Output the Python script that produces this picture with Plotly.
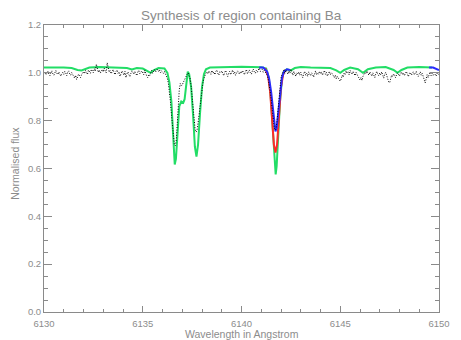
import plotly.graph_objects as go

# ---------------- data ----------------
obs_start = 6130.0
obs_step = 0.05
obs_flux = [
    # 6130
    0.998, 1.004, 0.992, 1.000, 1.006, 0.995, 0.988, 1.002, 1.008, 0.996,
    0.990, 1.000, 1.010, 0.998, 0.993, 1.004, 0.997, 0.986, 0.995, 1.002,
    # 6131
    0.994, 1.006, 0.999, 0.988, 1.003, 1.008, 0.996, 0.990, 1.001, 0.994,
    0.985, 0.978, 0.990, 0.972, 0.983, 0.995, 0.988, 0.980, 0.992, 1.000,
    # 6132
    1.005, 0.996, 1.010, 1.002, 0.993, 1.012, 1.004, 0.998, 1.015, 1.006,
    1.000, 1.018, 1.008, 1.036, 1.010, 1.002, 1.012, 0.999, 1.006, 1.014,
    # 6133
    1.004, 1.020, 1.008, 1.000, 1.042, 1.012, 1.003, 1.010, 0.996, 1.005,
    1.014, 1.000, 0.992, 1.006, 1.012, 0.998, 1.004, 0.985, 0.995, 1.008,
    # 6134
    1.000, 0.990, 1.006, 0.980, 0.996, 1.004, 0.992, 0.984, 0.998, 1.008,
    1.002, 0.994, 1.006, 0.998, 0.988, 1.004, 1.010, 0.996, 1.002, 1.008,
    # 6135
    1.000, 0.992, 1.012, 0.996, 0.986, 0.980, 0.992, 0.988, 1.000, 1.010,
    0.998, 1.008, 1.014, 1.004, 1.010, 1.016, 1.006, 1.012, 1.000, 1.008,
    # 6136
    1.004, 0.998, 1.006, 0.996, 0.990, 0.975, 0.955, 0.925, 0.880, 0.830,
    0.775, 0.730, 0.700, 0.695, 0.720, 0.790, 0.870, 0.930, 0.955, 0.945,
    # 6137
    0.950, 0.960, 0.972, 0.978, 0.985, 0.995, 1.000, 0.990, 0.975, 0.945,
    0.900, 0.850, 0.800, 0.765, 0.752, 0.760, 0.790, 0.830, 0.860, 0.900,
    # 6138
    0.935, 0.960, 0.978, 0.990, 0.998, 1.004, 0.996, 1.008, 1.000, 0.994,
    1.010, 0.998, 1.004, 0.992, 1.006, 1.012, 0.998, 0.990, 1.004, 1.000,
    # 6139
    1.008, 0.996, 0.988, 1.002, 1.010, 0.995, 0.985, 0.998, 1.006, 0.992,
    1.000, 1.012, 0.996, 1.004, 0.990, 0.998, 1.008, 1.002, 0.994, 1.006,
    # 6140
    0.998, 1.010, 1.002, 0.992, 1.006, 1.014, 0.996, 1.004, 1.012, 1.000,
    0.994, 1.008, 1.016, 1.004, 0.998, 1.010, 1.002, 1.012, 1.020, 1.006,
    # 6141
    1.008, 1.014, 1.002, 1.010, 1.004, 0.996, 0.990, 0.975, 0.955, 0.925,
    0.890, 0.850, 0.805, 0.775, 0.760, 0.765, 0.800, 0.850, 0.905, 0.950,
    # 6142
    0.980, 0.995, 1.004, 1.010, 0.998, 1.012, 1.004, 0.994, 1.008, 0.998,
    1.015, 1.002, 0.990, 1.006, 0.996, 0.985, 1.000, 0.994, 1.004, 0.990,
    # 6143
    1.002, 0.994, 0.980, 0.996, 1.006, 0.990, 0.998, 0.985, 1.004, 0.996,
    0.988, 1.000, 0.994, 0.982, 0.998, 1.008, 0.992, 1.000, 0.994, 1.006,
    # 6144
    0.996, 1.004, 0.990, 0.998, 1.010, 0.994, 1.002, 0.986, 0.998, 1.006,
    0.992, 1.000, 0.996, 0.988, 0.980, 0.990, 0.975, 0.985, 0.978, 0.970,
    # 6145
    0.965, 0.975, 0.990, 0.982, 1.000, 0.994, 1.008, 0.998, 1.004, 0.992,
    1.010, 1.000, 0.994, 1.006, 0.998, 0.988, 1.002, 0.996, 0.985, 0.978,
    # 6146
    0.970, 0.980, 0.968, 0.985, 0.992, 1.002, 0.996, 1.008, 0.998, 0.990,
    1.004, 0.994, 0.986, 1.000, 0.992, 0.980, 0.996, 1.006, 0.994, 0.988,
    # 6147
    1.000, 0.992, 1.004, 0.986, 0.978, 0.994, 1.002, 0.990, 0.975, 0.962,
    0.958, 0.975, 0.990, 0.984, 0.996, 0.988, 0.980, 0.992, 1.000, 0.994,
    # 6148
    0.986, 0.998, 1.004, 0.992, 1.000, 0.988, 0.996, 1.006, 0.994, 0.984,
    0.998, 1.002, 0.990, 0.996, 1.004, 0.992, 0.998, 1.006, 0.990, 0.985,
    # 6149
    0.996, 1.004, 0.990, 0.998, 0.985, 0.970, 0.958, 0.975, 0.992, 0.980,
    0.996, 1.004, 0.988, 0.998, 0.990, 1.002, 0.994, 0.986, 0.998, 0.992,
    # 6150
    0.996,
]
obs_wave = [round(obs_start + i * obs_step, 3) for i in range(len(obs_flux))]

green_wave = [
    6130.0, 6130.5, 6131.0, 6131.4, 6131.7, 6131.9, 6132.1, 6132.3, 6132.8, 6133.3,
    6133.8, 6134.2, 6134.45, 6134.7, 6135.0, 6135.25, 6135.4, 6135.55, 6135.8, 6136.1,
    6136.25, 6136.35, 6136.45, 6136.52, 6136.58, 6136.62, 6136.68, 6136.75, 6136.85, 6136.95,
    6137.05, 6137.12, 6137.2, 6137.28, 6137.35, 6137.45, 6137.55, 6137.64, 6137.72, 6137.8,
    6137.9, 6138.0, 6138.1, 6138.2, 6138.4, 6139.0, 6139.5, 6140.0, 6140.5, 6141.0,
    6141.25, 6141.38, 6141.48, 6141.56, 6141.64, 6141.7, 6141.73, 6141.78, 6141.86, 6141.95,
    6142.05, 6142.15, 6142.3, 6142.5, 6142.7, 6143.0, 6143.5, 6144.0, 6144.5, 6144.8,
    6145.0, 6145.2, 6145.5, 6145.9, 6146.15, 6146.4, 6146.8, 6147.3, 6147.7, 6147.9,
    6148.1, 6148.4, 6149.0, 6149.65,
]
green_flux = [
    1.022, 1.023, 1.022, 1.020, 1.012, 1.010, 1.015, 1.022, 1.024, 1.023,
    1.022, 1.020, 1.014, 1.020, 1.018, 1.005, 1.000, 1.010, 1.020, 1.018,
    1.000, 0.960, 0.880, 0.770, 0.660, 0.617, 0.640, 0.740, 0.860, 0.880,
    0.875, 0.890, 0.955, 1.005, 0.995, 0.940, 0.820, 0.690, 0.650, 0.700,
    0.830, 0.940, 0.995, 1.015, 1.022, 1.024, 1.023, 1.025, 1.024, 1.023,
    1.018, 0.980, 0.900, 0.790, 0.650, 0.590, 0.575, 0.610, 0.740, 0.880,
    0.975, 1.008, 1.015, 1.010, 1.020, 1.024, 1.022, 1.022, 1.020, 1.010,
    1.000, 1.012, 1.022, 1.015, 1.000, 1.015, 1.022, 1.024, 1.012, 1.000,
    1.012, 1.022, 1.024, 1.022,
]

red_wave = [6141.2, 6141.35, 6141.45, 6141.55, 6141.64, 6141.72, 6141.8, 6141.9, 6142.0, 6142.1, 6142.2]
red_flux = [1.020, 0.985, 0.920, 0.810, 0.700, 0.667, 0.700, 0.820, 0.940, 0.990, 1.012]

blue_wave = [6140.9, 6141.1, 6141.3, 6141.4, 6141.5, 6141.6, 6141.68, 6141.72, 6141.78, 6141.85,
             6141.95, 6142.05, 6142.15, 6142.3, 6142.45, None, 6149.5, 6149.7, 6150.0]
blue_flux = [1.022, 1.022, 1.005, 0.975, 0.920, 0.830, 0.770, 0.755, 0.770, 0.830,
             0.920, 0.980, 1.005, 1.015, 1.012, None, 1.022, 1.022, 1.012]

x_ticks = [6130, 6135, 6140, 6145, 6150]
y_ticks = [0.0, 0.2, 0.4, 0.6, 0.8, 1.0, 1.2]

title_text = "Synthesis of region containing Ba"
x_label = "Wavelength in Angstrom"
y_label = "Normalised flux"

# ---------------- figure ----------------
AX = "#8a8a8a"
TXT = "#8c8c8c"
FONT = "Liberation Sans"

fig = go.Figure()
fig.add_trace(go.Scatter(x=green_wave, y=green_flux, mode="lines",
                         line=dict(color="#22dd66", width=2),
                         showlegend=False, hoverinfo="skip"))
fig.add_trace(go.Scatter(x=red_wave, y=red_flux, mode="lines",
                         line=dict(color="#ff2a2a", width=2),
                         showlegend=False, hoverinfo="skip"))
fig.add_trace(go.Scatter(x=blue_wave, y=blue_flux, mode="lines", connectgaps=False,
                         line=dict(color="#2a2aff", width=2),
                         showlegend=False, hoverinfo="skip"))
fig.add_trace(go.Scatter(x=obs_wave, y=obs_flux, mode="lines",
                         line=dict(color="black", width=1, dash="1px,1.6px"),
                         showlegend=False, hoverinfo="skip"))

axis_common = dict(showgrid=False, zeroline=False, showline=True, linecolor=AX, linewidth=1,
                   mirror="allticks", ticks="inside", tickcolor=AX, tickwidth=1,
                   tickfont=dict(family=FONT, size=9.5, color=TXT))

fig.update_xaxes(range=[6130, 6150], tickvals=x_ticks, ticktext=[str(v) for v in x_ticks],
                 ticklen=6, ticklabelstandoff=3,
                 minor=dict(dtick=1, tick0=6130, ticks="inside", ticklen=3, tickcolor=AX, tickwidth=1),
                 **axis_common)
fig.update_yaxes(range=[0, 1.2], tickvals=y_ticks, ticktext=[f"{v:.1f}" for v in y_ticks],
                 ticklen=8,
                 minor=dict(dtick=0.05, tick0=0, ticks="inside", ticklen=4, tickcolor=AX, tickwidth=1),
                 **axis_common)

fig.update_layout(
    width=461, height=340,
    margin=dict(l=44, r=11, t=25, b=27, pad=0),
    paper_bgcolor="white", plot_bgcolor="white",
    annotations=[
        dict(text=title_text, xref="paper", yref="paper", x=0.5, y=1.0347,
             xanchor="center", yanchor="middle", showarrow=False,
             font=dict(family=FONT, size=13.5, color=TXT)),
        dict(text=x_label, xref="paper", yref="paper", x=0.5, y=-0.076,
             xanchor="center", yanchor="middle", showarrow=False,
             font=dict(family=FONT, size=10.5, color=TXT)),
        dict(text=y_label, xref="paper", yref="paper", x=-0.0739, y=0.519,
             xanchor="center", yanchor="middle", showarrow=False, textangle=-90,
             font=dict(family=FONT, size=10.5, color=TXT)),
    ],
)

fig.write_html("out.html")
